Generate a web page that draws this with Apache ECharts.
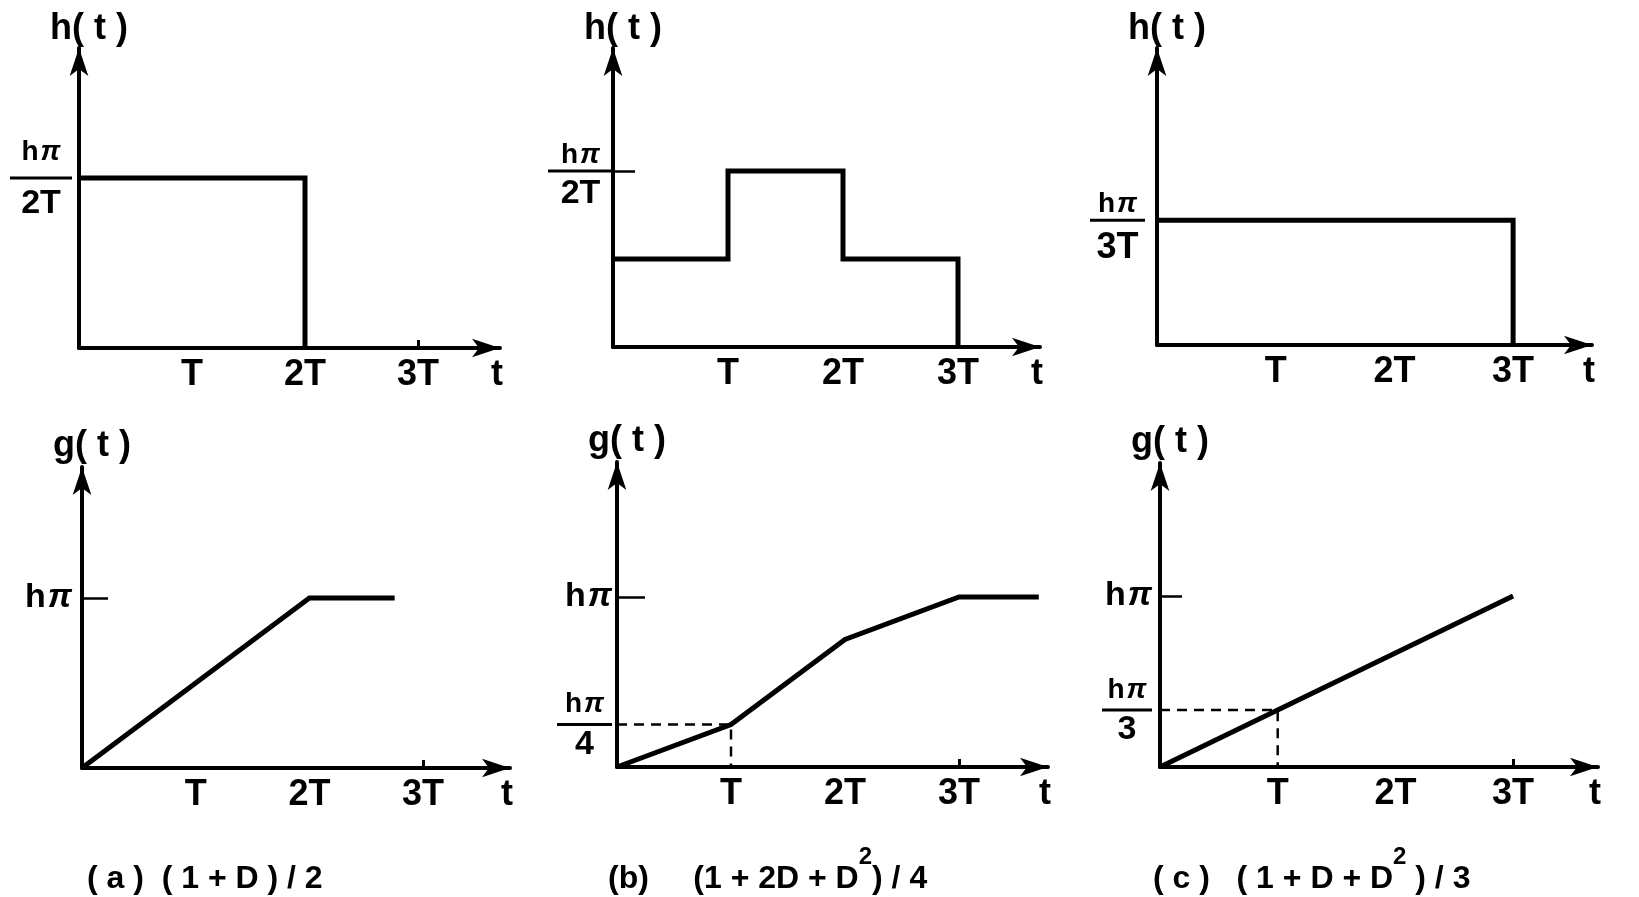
<!DOCTYPE html>
<html>
<head>
<meta charset="utf-8">
<script src="https://cdn.jsdelivr.net/npm/echarts@6/dist/echarts.min.js"></script>
<style>
  html, body { margin: 0; padding: 0; background: #fff; }
  #chart { width: 1639px; height: 897px; }
</style>
</head>
<body>
<div id="chart"></div>
<script>
// Time axis: tick positions (multiples of T) and their labels
const timeTicks = [1, 2, 3];
const timeTickLabels = ['T', '2T', '3T'];

// Impulse responses h(t), in units of hπ/T (breakpoints, step values)
const hA_t = [0, 2];
const hA_v = [0.5, 0];
const hB_t = [0, 1, 2, 3];
const hB_v = [0.25, 0.5, 0.25, 0];
const hC_t = [0, 3];
const hC_v = [0.333, 0];

// Step responses g(t), in units of hπ
const gA_t = [0, 2, 2.75];
const gA_v = [0, 1, 1];
const gB_t = [0, 1, 2, 3, 3.7];
const gB_v = [0, 0.25, 0.75, 1, 1];
const gC_t = [0, 1, 3];
const gC_v = [0, 0.333, 1];

// Labelled levels on the vertical axes
const hLevels = [0.5, 0.5, 0.333];
const hLevelDen = ['2T', '2T', '3T'];
const gFullLevel = 1;
const gGuideDen = [null, '4', '3'];

// Captions under each column
const captions = [
  '{m|( a )  ( 1 + D ) / 2}',
  '{m|(b)     (1 + 2D + D}{s|2}{m|) / 4}',
  '{m|( c )   ( 1 + D + D}{s|2}{m| ) / 3}'
];

const FONT = '"Liberation Sans", Arial, sans-serif';
const INK = '#000';
const W = 'bold';

function pairs(ts, vs) { return ts.map((t, i) => [t, vs[i]]); }

// Panel geometry in pixels: origin, arrow tips, and scale (px per T, px per unit value)
const layout = [
  { ox: 79,   oy: 348, tipX: 500,  tipY: 48,  pxT: 113,   pxV: 340 },
  { ox: 613,  oy: 347, tipX: 1040, tipY: 48,  pxT: 115,   pxV: 352 },
  { ox: 1157, oy: 345, tipX: 1592, tipY: 48,  pxT: 118.7, pxV: 375 },
  { ox: 82,   oy: 768, tipX: 510,  tipY: 467, pxT: 113.7, pxV: 170 },
  { ox: 617,  oy: 767, tipX: 1048, tipY: 462, pxT: 114,   pxV: 170 },
  { ox: 1160, oy: 767, tipX: 1598, tipY: 463, pxT: 117.7, pxV: 171 }
];

const grids = [], xAxes = [], yAxes = [], series = [];

function fracRich(numSize, denSize, lh, barW, numVA) {
  return {
    n:   { fontSize: numSize, fontWeight: W, lineHeight: lh, align: 'center', verticalAlign: numVA, fontFamily: FONT, color: INK },
    p:   { fontSize: numSize, fontWeight: W, lineHeight: lh, align: 'center', verticalAlign: numVA, fontFamily: FONT, color: INK, fontStyle: 'italic', padding: [0, 0, 0, 2] },
    bar: { fontSize: 1, width: barW, height: 3, lineHeight: 3, align: 'center', backgroundColor: INK },
    d:   { fontSize: denSize, fontWeight: W, lineHeight: lh, align: 'center', verticalAlign: 'middle', fontFamily: FONT, color: INK },
    H:   { fontSize: 34, fontWeight: W, lineHeight: 40, fontFamily: FONT, color: INK },
    P:   { fontSize: 34, fontWeight: W, lineHeight: 40, fontFamily: FONT, color: INK, fontStyle: 'italic', padding: [0, 0, 0, 2] }
  };
}
function fracText(den) { return '{n|h}{p|π}\n{bar| }\n{d|' + den + '}'; }
function hpiText() { return '{H|h}{P|π}'; }

// y-axis label settings per panel
const yLab = [
  { margin: 7,  rich: fracRich(28, 34, 48, 62, 'middle') },
  { margin: 0,  rich: fracRich(28, 34, 42, 65, 'bottom') },
  { margin: 12, rich: fracRich(28, 36, 52, 55, 'bottom') },
  { margin: 10, rich: fracRich(28, 34, 36, 55, 'middle') },
  { margin: 5,  rich: fracRich(28, 34, 38, 55, 'middle') },
  { margin: 8,  rich: fracRich(28, 34, 36, 50, 'middle') }
];
const yTickLen = [0, 22, 0, 26, 28, 22];
const x3Tick = [true, false, false, true, true, true];

layout.forEach((L, i) => {
  const isTop = i < 3;
  const width = L.tipX - L.ox;
  const height = L.oy - L.tipY;
  grids.push({ left: L.ox, top: L.tipY, width: width, height: height, containLabel: false, outerBoundsMode: 'none' });

  xAxes.push({
    type: 'value', gridIndex: i, min: 0, max: width / L.pxT, position: 'bottom',
    name: 't', nameLocation: 'end', nameGap: -3,
    nameTextStyle: { fontFamily: FONT, fontWeight: W, fontSize: 36, color: INK, align: 'center', verticalAlign: 'top', padding: [9, 0, 0, 0] },
    axisLine: { show: true, onZero: false, symbol: ['none', 'arrow'], symbolSize: [14, 28],
      lineStyle: { color: INK, width: 4 } },
    axisTick: x3Tick[i]
      ? { show: true, inside: true, length: 8, customValues: [3], lineStyle: { color: INK, width: 3 } }
      : { show: false },
    axisLabel: {
      customValues: timeTicks, margin: 9, color: INK, fontFamily: FONT, fontWeight: W, fontSize: 36,
      formatter: v => timeTickLabels[timeTicks.indexOf(Math.round(v))] || ''
    },
    splitLine: { show: false }
  });

  let yVals, yFmt;
  if (isTop) {
    yVals = [hLevels[i]];
    yFmt = () => fracText(hLevelDen[i]);
  } else {
    const k = i - 3;
    const guide = gGuideDen[k] ? [[gB_v, gC_v][k - 1][1]] : [];
    yVals = [gFullLevel].concat(guide);
    yFmt = v => (v === gFullLevel ? hpiText() : fracText(gGuideDen[k]));
  }
  yAxes.push({
    type: 'value', gridIndex: i, min: 0, max: height / L.pxV,
    name: isTop ? 'h( t )' : 'g( t )', nameLocation: 'end', nameGap: isTop ? 1 : 3,
    nameTextStyle: { fontFamily: FONT, fontWeight: W, fontSize: 36, color: INK, align: 'center', verticalAlign: 'bottom', padding: [0, 0, 0, 20] },
    axisLine: { show: true, onZero: false, symbol: ['none', 'arrow'], symbolSize: [14, 28],
      lineStyle: { color: INK, width: 4 } },
    axisTick: yTickLen[i]
      ? { show: true, inside: true, length: yTickLen[i], customValues: [isTop ? hLevels[i] : gFullLevel], lineStyle: { color: INK, width: 2.5 } }
      : { show: false },
    axisLabel: { customValues: yVals, margin: yLab[i].margin, formatter: yFmt, rich: yLab[i].rich, color: INK },
    splitLine: { show: false }
  });
});

const solid = { color: INK, width: 5, join: 'miter', cap: 'butt' };
const dashed = { color: INK, width: 2.5, type: [10, 7] };

function addLine(idx, data, style, step) {
  series.push({
    type: 'line', xAxisIndex: idx, yAxisIndex: idx, data: data,
    step: step || false, showSymbol: false, clip: false, silent: true,
    lineStyle: style, z: 3
  });
}

// h(t) staircases
addLine(0, pairs(hA_t, hA_v), solid, 'end');
addLine(1, pairs(hB_t, hB_v), solid, 'end');
addLine(2, pairs(hC_t, hC_v), solid, 'end');
// g(t) ramps
addLine(3, pairs(gA_t, gA_v), solid);
addLine(4, pairs(gB_t, gB_v), solid);
addLine(5, pairs(gC_t, gC_v), solid);
// dashed guides to the value reached at t = T
addLine(4, [[0, gB_v[1]], [gB_t[1], gB_v[1]], [gB_t[1], 0]], dashed);
addLine(5, [[0, gC_v[1]], [gC_t[1], gC_v[1]], [gC_t[1], 0]], dashed);

const captionRich = {
  m: { fontFamily: FONT, fontWeight: W, fontSize: 32, lineHeight: 50, verticalAlign: 'bottom', color: INK },
  s: { fontFamily: FONT, fontWeight: W, fontSize: 24, lineHeight: 50, verticalAlign: 'top', color: INK }
};
const captionLeft = [87, 608, 1153];
const titles = captions.map((c, i) => ({
  text: c, left: captionLeft[i], top: 845, padding: 0,
  textStyle: { fontWeight: W, rich: captionRich }
}));

const chart = echarts.init(document.getElementById('chart'), null, { renderer: 'canvas' });
chart.setOption({
  animation: false,
  backgroundColor: '#fff',
  textStyle: { fontFamily: FONT, color: INK },
  title: titles,
  grid: grids,
  xAxis: xAxes,
  yAxis: yAxes,
  series: series
});
</script>
</body>
</html>
